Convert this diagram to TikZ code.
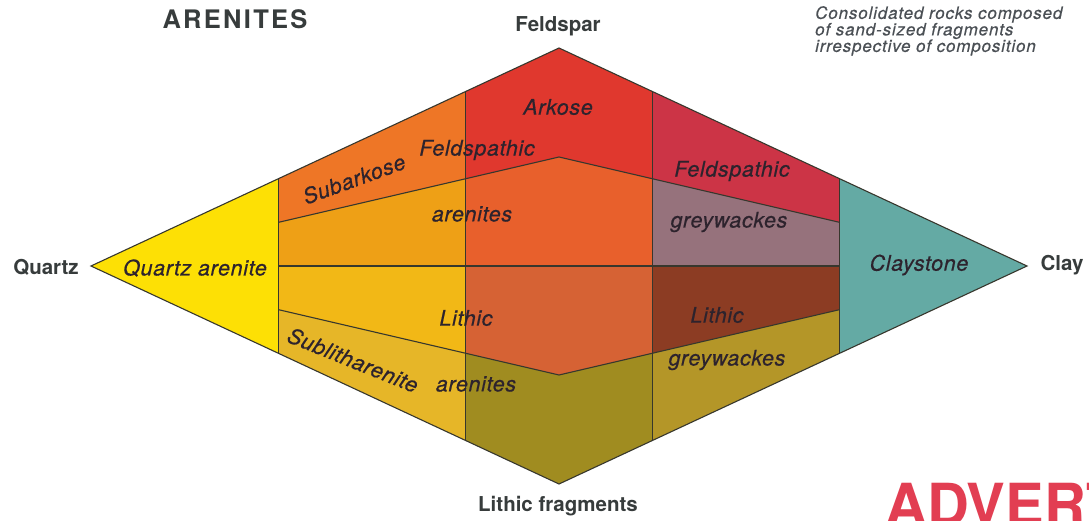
\documentclass[tikz,border=0pt]{standalone}
\usepackage{fontspec}
\setmainfont{TeX Gyre Heros}
\newfontfamily\labfont[FakeBold=0.5,LetterSpace=3]{TeX Gyre Heros}
\newfontfamily\notefont[FakeBold=0.4,LetterSpace=5]{TeX Gyre Heros}
\newfontfamily\titlefont[LetterSpace=9]{TeX Gyre Heros}
\definecolor{lineC}{RGB}{55,55,45}
\definecolor{labC}{RGB}{45,35,45}
\definecolor{poleC}{RGB}{55,60,60}
\definecolor{noteC}{RGB}{75,80,85}
\definecolor{cQ}{RGB}{253,224,5}
\definecolor{cSubark}{RGB}{238,118,38}
\definecolor{cLum}{RGB}{238,160,22}
\definecolor{cLlm}{RGB}{242,184,22}
\definecolor{cSubl}{RGB}{230,182,40}
\definecolor{cArk}{RGB}{224,56,46}
\definecolor{cCum}{RGB}{232,96,44}
\definecolor{cClm}{RGB}{214,98,52}
\definecolor{cCb}{RGB}{160,140,32}
\definecolor{cRt}{RGB}{204,52,70}
\definecolor{cRum}{RGB}{150,114,124}
\definecolor{cRlm}{RGB}{140,60,35}
\definecolor{cRb}{RGB}{180,150,40}
\definecolor{cClay}{RGB}{100,170,164}
\definecolor{advC}{RGB}{226,62,82}
\begin{document}
\begin{tikzpicture}[x=1pt,y=-1pt,
  edge/.style={draw=lineC, line width=1.1pt, line join=miter},
  lab/.style={font=\labfont\fontsize{21.5}{24}\selectfont\itshape, text=labC, inner sep=0pt},
  pole/.style={font=\fontsize{20.5}{24}\selectfont\bfseries, text=poleC, inner sep=0pt}]
\useasboundingbox[fill=white] (0,0) rectangle (1089,521);
% vertices
\coordinate (Q) at (91,266);
\coordinate (F) at (559,48);
\coordinate (C) at (1027,266);
\coordinate (L) at (559,484);
% column x=278.2
\coordinate (A1) at (278.2,178.8);
\coordinate (A2) at (278.2,222.4);
\coordinate (A3) at (278.2,266);
\coordinate (A4) at (278.2,309.6);
\coordinate (A5) at (278.2,353.2);
% column x=465.4
\coordinate (B1) at (465.4,91.6);
\coordinate (B2) at (465.4,178.8);
\coordinate (B3) at (465.4,266);
\coordinate (B4) at (465.4,353.2);
\coordinate (B5) at (465.4,440.4);
% centre
\coordinate (M1) at (559,157);
\coordinate (M2) at (559,375);
% column x=652.6
\coordinate (D1) at (652.6,91.6);
\coordinate (D2) at (652.6,178.8);
\coordinate (D3) at (652.6,266);
\coordinate (D4) at (652.6,353.2);
\coordinate (D5) at (652.6,440.4);
% column x=839.8
\coordinate (E1) at (839.8,178.8);
\coordinate (E2) at (839.8,222.4);
\coordinate (E3) at (839.8,266);
\coordinate (E4) at (839.8,309.6);
\coordinate (E5) at (839.8,353.2);
% fills
\fill[cQ] (Q) -- (A1) -- (A5) -- cycle;
\fill[cSubark] (A1) -- (B1) -- (B2) -- (A2) -- cycle;
\fill[cLum] (A2) -- (B2) -- (B3) -- (A3) -- cycle;
\fill[cLlm] (A3) -- (B3) -- (B4) -- (A4) -- cycle;
\fill[cSubl] (A4) -- (B4) -- (B5) -- (A5) -- cycle;
\fill[cArk] (B1) -- (F) -- (D1) -- (D2) -- (M1) -- (B2) -- cycle;
\fill[cCum] (B2) -- (M1) -- (D2) -- (D3) -- (B3) -- cycle;
\fill[cClm] (B3) -- (D3) -- (D4) -- (M2) -- (B4) -- cycle;
\fill[cCb] (B4) -- (M2) -- (D4) -- (D5) -- (L) -- (B5) -- cycle;
\fill[cRt] (D1) -- (E1) -- (E2) -- (D2) -- cycle;
\fill[cRum] (D2) -- (E2) -- (E3) -- (D3) -- cycle;
\fill[cRlm] (D3) -- (E3) -- (E4) -- (D4) -- cycle;
\fill[cRb] (D4) -- (E4) -- (E5) -- (D5) -- cycle;
\fill[cClay] (E1) -- (C) -- (E5) -- cycle;
% lines
\draw[edge] (A1) -- (A5);
\draw[edge] (B1) -- (B5);
\draw[edge] (D1) -- (D5);
\draw[edge] (E1) -- (E5);
\draw[edge] (A3) -- (E3);
\draw[edge] (A2) -- (M1) -- (E2);
\draw[edge] (A4) -- (M2) -- (E4);
\draw[edge] (Q) -- (F) -- (C) -- (L) -- cycle;
% region labels
\node[lab] (tQA) at (195,268) {Quartz arenite};
\node[lab, rotate=20] (tSubark) at (354,179) {Subarkose};
\node[lab] (tFA1) at (477,150) {Feldspathic};
\node[lab] (tFA2) at (472,214) {arenites};
\node[lab] (tArk) at (558,107) {Arkose};
\node[lab] (tFG1) at (732,171) {Feldspathic};
\node[lab] (tFG2) at (729,222) {greywackes};
\node[lab] (tClay) at (919,265) {Claystone};
\node[lab] (tLA1) at (466,318) {Lithic};
\node[lab] (tLA2) at (476,384) {arenites};
\node[lab] (tLG1) at (717,315) {Lithic};
\node[lab] (tLG2) at (727,360) {greywackes};
\node[lab, rotate=-22] (tSubl) at (353,360) {Sublitharenite};
% poles
\node[pole] (pQ) at (46,267) {Quartz};
\node[pole] (pF) at (558,26) {Feldspar};
\node[pole] (pC) at (1062,265) {Clay};
\node[pole] (pL) at (558,506) {Lithic fragments};
% title and note
\node[font=\titlefont\fontsize{25.5}{28}\selectfont\bfseries, text=poleC, inner sep=0pt] (title) at (235,19) {ARENITES};
\node[font=\notefont\fontsize{17}{16.5}\selectfont\itshape, text=noteC, inner sep=0pt, anchor=north west, align=left] (note) at (815,6) {Consolidated rocks composed\\of sand-sized fragments\\irrespective of composition};
% cut-off advert
\begin{scope}
\clip (0,0) rectangle (1089,521);
\node[font=\fontsize{58}{60}\selectfont\bfseries, text=advC, inner sep=0pt, anchor=base west] (adv) at (885,525) {ADVERT};
\end{scope}
\end{tikzpicture}
\end{document}
